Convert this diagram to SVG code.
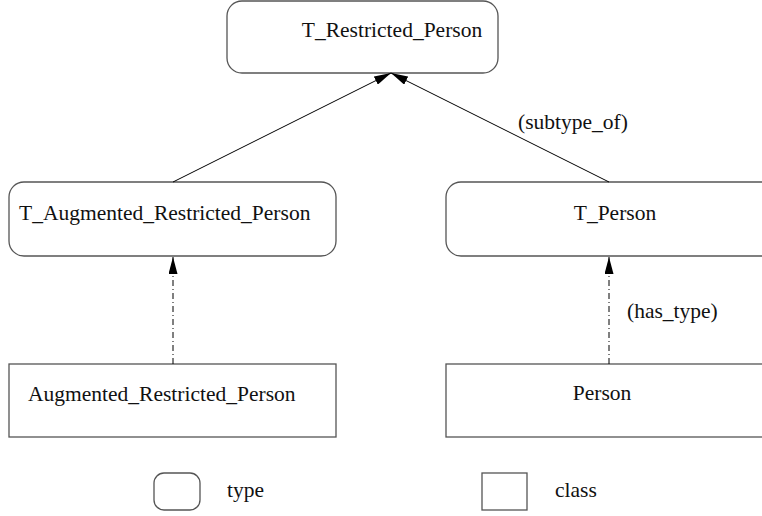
<svg xmlns="http://www.w3.org/2000/svg" width="762" height="516" viewBox="0 0 762 516">
<style>
.node{fill:#fff;stroke:#555;stroke-width:1.3}
.t{font-family:"Liberation Serif","Times New Roman",serif;font-size:21.5px;fill:#111}
.e{stroke:#000;stroke-width:1;fill:none}
.d{stroke-dasharray:6,3,1,3}
</style>
<defs>
<marker id="ah" viewBox="0 0 10 10" refX="10" refY="5" markerWidth="17" markerHeight="9" markerUnits="userSpaceOnUse" orient="auto" preserveAspectRatio="none">
<path d="M0,0 L10,5 L0,10 z" fill="#000"/>
</marker>
</defs>
<rect width="762" height="516" fill="#fff"/>
<g id="n_T_Restricted_Person">
<rect class="node" x="227" y="1" width="271" height="72" rx="15"/>
<text class="t" x="392" y="37" text-anchor="middle">T_Restricted_Person</text>
</g>
<g id="n_T_Augmented_Restricted_Person">
<rect class="node" x="9" y="182" width="327" height="74" rx="15"/>
<text class="t" x="19" y="220">T_Augmented_Restricted_Person</text>
</g>
<g id="n_T_Person">
<rect class="node" x="446" y="182" width="340" height="74" rx="15"/>
<text class="t" x="615" y="220" text-anchor="middle">T_Person</text>
</g>
<g id="n_Augmented_Restricted_Person">
<rect class="node" x="9" y="364" width="327" height="73"/>
<text class="t" x="28" y="401">Augmented_Restricted_Person</text>
</g>
<g id="n_Person">
<rect class="node" x="446" y="364" width="340" height="73"/>
<text class="t" x="602" y="400" text-anchor="middle">Person</text>
</g>
<g id="connectors">
<line class="e" x1="173" y1="182" x2="391" y2="73" marker-end="url(#ah)"/>
<line class="e" x1="609" y1="182" x2="391" y2="73" marker-end="url(#ah)"/>
<line class="e d" x1="173" y1="364" x2="173" y2="257" marker-end="url(#ah)"/>
<line class="e d" x1="609" y1="364" x2="609" y2="257" marker-end="url(#ah)"/>
<text class="t" x="518" y="129">(subtype_of)</text>
<text class="t" x="627" y="318">(has_type)</text>
</g>
<g id="legend_type">
<rect class="node" x="154" y="473" width="46" height="37" rx="10"/>
<text class="t" x="227" y="497">type</text>
</g>
<g id="legend_class">
<rect class="node" x="482" y="473" width="45" height="37"/>
<text class="t" x="555" y="497">class</text>
</g>
</svg>
